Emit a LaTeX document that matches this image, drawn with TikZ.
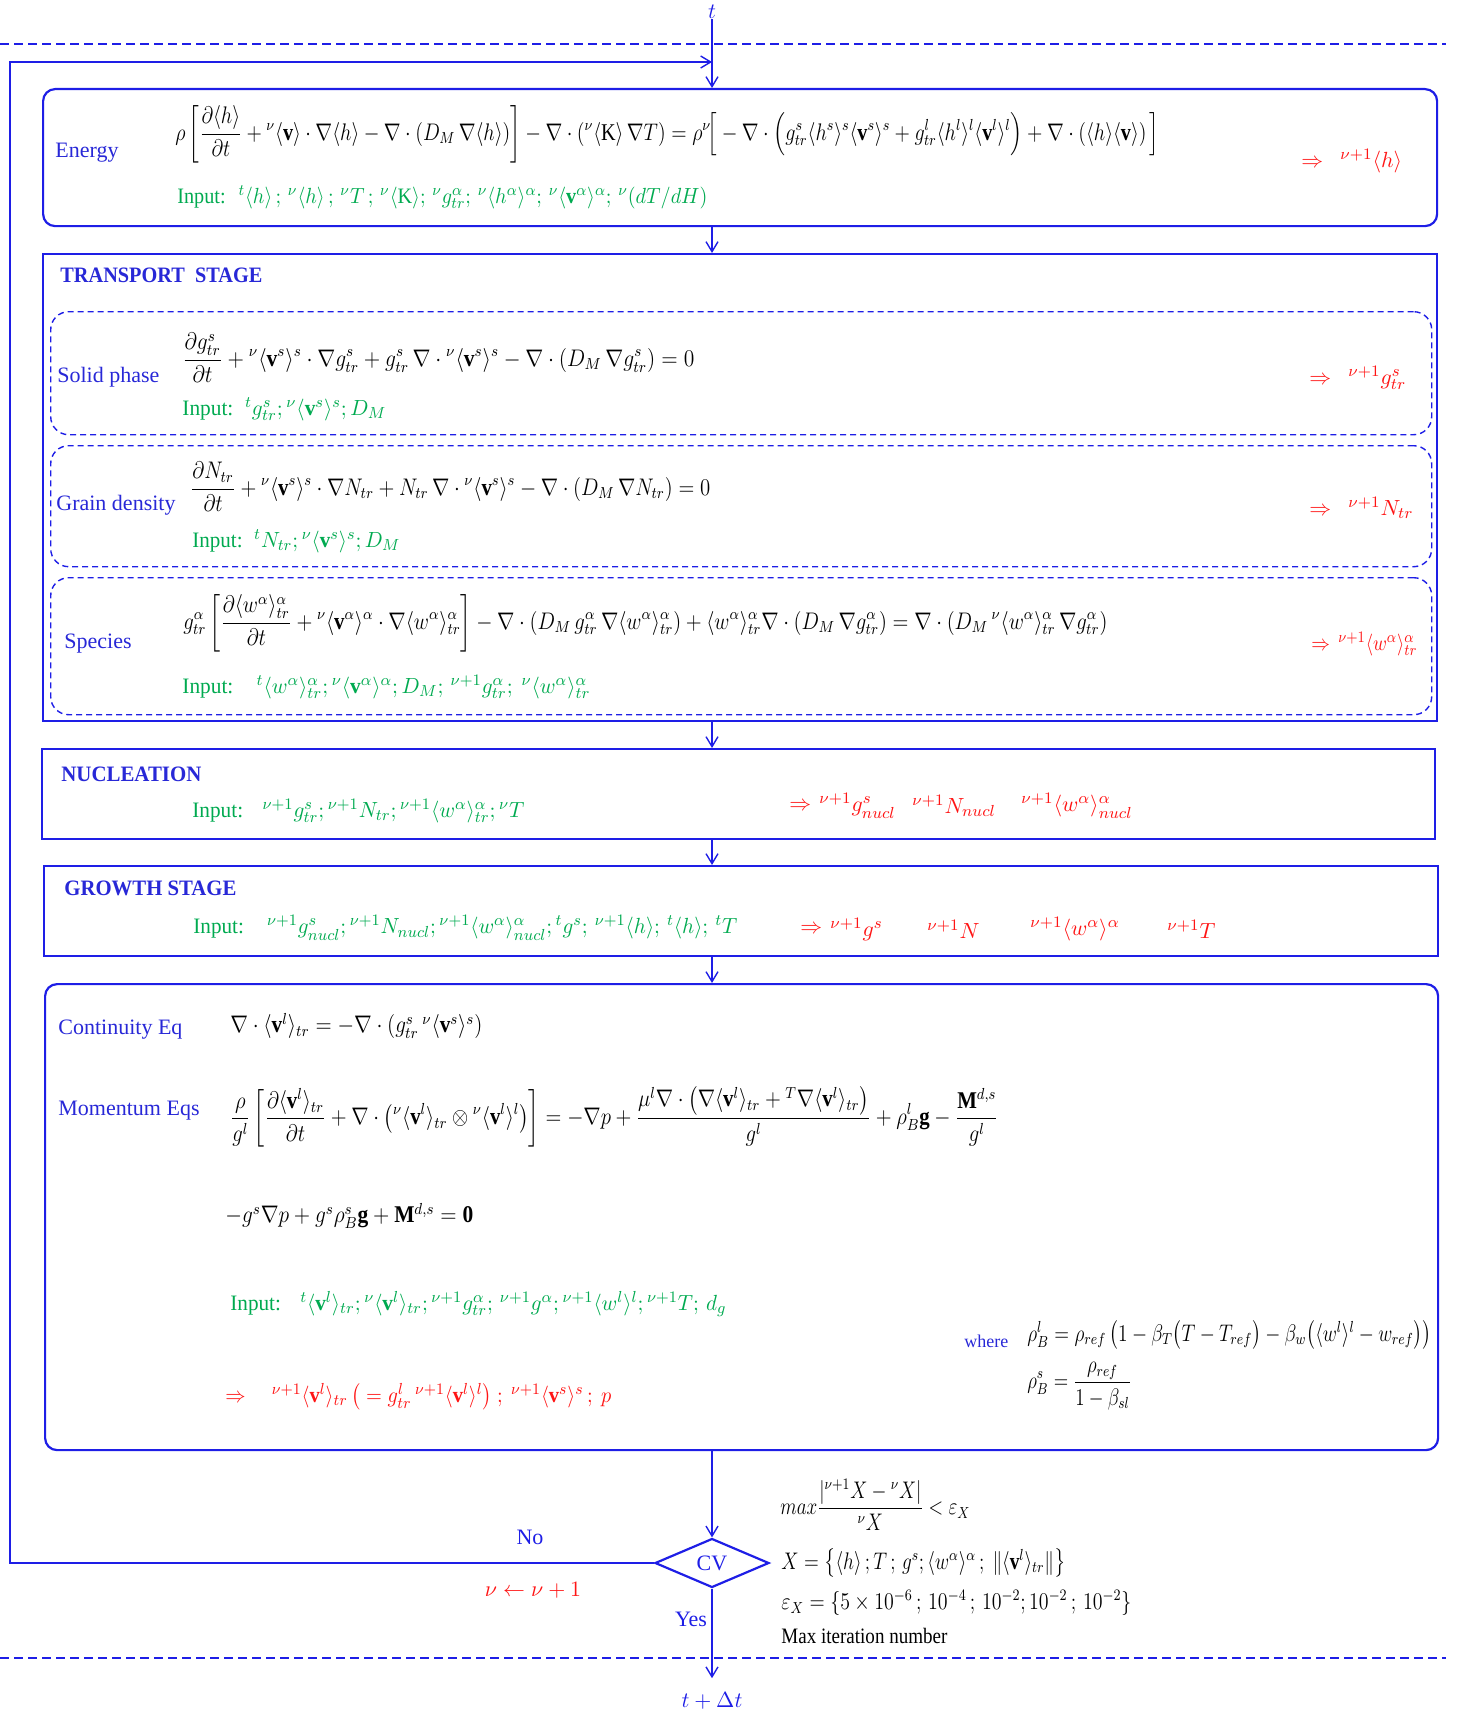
\documentclass[tikz,border=0pt]{standalone}
\usepackage{amsmath,amssymb}
\usepackage{graphicx}
\usepackage{fontspec}
\setmainfont{Liberation Serif}
\usetikzlibrary{arrows.meta,shapes.geometric}
\definecolor{fblue}{RGB}{30,30,230}
\definecolor{lblue}{RGB}{40,40,215}
\definecolor{igreen}{RGB}{0,170,80}
\definecolor{ored}{RGB}{255,20,20}
\newcommand{\pv}{{}^{\nu}}
\newcommand{\pn}{{}^{\nu+1}}
\newcommand{\pt}{{}^{t}}
\newcommand{\bv}{\mathbf{v}}
\newcommand{\hfit}[2]{\resizebox{#1}{\height}{#2}}
\begin{document}
\begin{tikzpicture}[x=0.5pt,y=-0.5pt,
  frame/.style={draw=fblue,line width=1.1pt,inner sep=0,anchor=north west},
  rframe/.style={frame,rounded corners=6pt},
  dbox/.style={draw=fblue,densely dashed,line width=0.7pt,rounded corners=9pt,inner sep=0,anchor=north west},
  lab/.style={anchor=west,inner sep=0,text=lblue,font=\fontsize{11}{13}\selectfont},
  ttl/.style={anchor=west,inner sep=0,text=lblue,font=\fontsize{11}{13}\selectfont\bfseries},
  eq/.style={anchor=west,inner sep=0,font=\fontsize{12}{14}\selectfont},
  inp/.style={anchor=west,inner sep=0,text=igreen,font=\fontsize{11}{13}\selectfont},
  outp/.style={anchor=west,inner sep=0,text=ored,font=\fontsize{11}{13}\selectfont},
  flow/.style={draw=fblue,line width=0.7pt,-{Straight Barb[length=5pt,width=6pt]}},
  tdash/.style={draw=fblue,line width=1.2pt,dash pattern=on 4.5pt off 2.5pt},
  cvshape/.style={diamond,draw=fblue,line width=1.1pt,minimum width=57pt,minimum height=24.5pt,inner sep=0,text=fblue,font=\fontsize{11}{13}\selectfont},
  plain/.style={inner sep=0,font=\fontsize{11}{13}\selectfont}
]
\useasboundingbox (0,0) rectangle (1458,1718);

% time markers and dashed lines
\node[plain,text=fblue] (tlab) at (712,12) {$t$};
\coordinate (dA) at (0,44);
\coordinate (dB) at (1446,44);
\draw[tdash] (dA) -- (dB);
\coordinate (dC) at (0,1658);
\coordinate (dD) at (1446,1658);
\draw[tdash] (dC) -- (dD);

% boxes
\node[rframe,minimum width=697pt,minimum height=68.5pt] (energy) at (42,88) {};
\node[frame,minimum width=697pt,minimum height=233.5pt] (transport) at (42,253) {};
\node[dbox,minimum width=690.5pt,minimum height=61.5pt] (solid) at (50,311) {};
\node[dbox,minimum width=690.5pt,minimum height=60.5pt] (grain) at (50,445) {};
\node[dbox,minimum width=690.5pt,minimum height=68.5pt] (species) at (50,577) {};
\node[frame,minimum width=696.5pt,minimum height=45pt] (nucl) at (41,748) {};
\node[frame,minimum width=697pt,minimum height=45pt] (growth) at (43,865) {};
\node[rframe,minimum width=696.5pt,minimum height=233pt] (moment) at (44,983) {};
\node[cvshape] (cv) at (712,1563) {CV};

% Energy
\node[lab] (lenergy) at (55,153) {Energy};
\node[eq] (eenergy) at (175,134) {\hfit{492pt}{$\displaystyle \rho\left[\frac{\partial\langle h\rangle}{\partial t}+\pv\langle\bv\rangle\cdot\nabla\langle h\rangle-\nabla\cdot\left(D_M\,\nabla\langle h\rangle\right)\right]-\nabla\cdot\left(\pv\langle\mathrm{K}\rangle\,\nabla T\right)=\rho^{\nu}\!\Big[-\nabla\cdot\Big(g^s_{tr}\langle h^s\rangle^s\langle\bv^s\rangle^s+g^l_{tr}\langle h^l\rangle^l\langle\bv^l\rangle^l\Big)+\nabla\cdot\left(\langle h\rangle\langle\bv\rangle\right)\Big]$}};
\node[inp] (ienergy) at (177,197) {\hfit{265pt}{Input:\hspace{7pt}$\pt\langle h\rangle\,;\,\pv\langle h\rangle\,;\,\pv T\,;\,\pv\langle\mathrm{K}\rangle;\,\pv g^{\alpha}_{tr};\,\pv\langle h^{\alpha}\rangle^{\alpha};\,\pv\langle\bv^{\alpha}\rangle^{\alpha};\,\pv(dT/dH)$}};
\node[outp] (oenergy) at (1301,161) {$\Rightarrow\ \ \pn\langle h\rangle$};

% Transport
\node[ttl] (ltrans) at (60,275) {\hfit{101pt}{TRANSPORT\ \ STAGE}};
\node[lab] (lsolid) at (57,377) {Solid phase};
\node[eq] (esolid) at (182,358) {\hfit{256pt}{$\displaystyle\frac{\partial g^s_{tr}}{\partial t}+\pv\langle\bv^s\rangle^s\cdot\nabla g^s_{tr}+g^s_{tr}\,\nabla\cdot\pv\langle\bv^s\rangle^s-\nabla\cdot\left(D_M\,\nabla g^s_{tr}\right)=0$}};
\node[inp] (isolid) at (182,409) {\hfit{102pt}{Input:\hspace{6pt}$\pt g^s_{tr};\pv\langle\bv^s\rangle^s;D_M$}};
\node[outp] (osolid) at (1309,378) {$\Rightarrow\ \ \pn g^s_{tr}$};

\node[lab] (lgrain) at (56,505) {Grain density};
\node[eq] (egrain) at (190,487) {\hfit{260pt}{$\displaystyle\frac{\partial N_{tr}}{\partial t}+\pv\langle\bv^s\rangle^s\cdot\nabla N_{tr}+N_{tr}\,\nabla\cdot\pv\langle\bv^s\rangle^s-\nabla\cdot\left(D_M\,\nabla N_{tr}\right)=0$}};
\node[inp] (igrain) at (192,541) {\hfit{104pt}{Input:\hspace{6pt}$\pt N_{tr};\pv\langle\bv^s\rangle^s;D_M$}};
\node[outp] (ograin) at (1309,508) {$\Rightarrow\ \ \pn N_{tr}$};

\node[lab] (lspec) at (64,644) {Species};
\node[eq] (espec) at (183,623) {\hfit{462pt}{$\displaystyle g^{\alpha}_{tr}\left[\frac{\partial\langle w^{\alpha}\rangle^{\alpha}_{tr}}{\partial t}+\pv\langle\bv^{\alpha}\rangle^{\alpha}\cdot\nabla\langle w^{\alpha}\rangle^{\alpha}_{tr}\right]-\nabla\cdot\left(D_M\,g^{\alpha}_{tr}\,\nabla\langle w^{\alpha}\rangle^{\alpha}_{tr}\right)+\langle w^{\alpha}\rangle^{\alpha}_{tr}\nabla\cdot\left(D_M\,\nabla g^{\alpha}_{tr}\right)=\nabla\cdot\left(D_M\,\pv\langle w^{\alpha}\rangle^{\alpha}_{tr}\,\nabla g^{\alpha}_{tr}\right)$}};
\node[inp] (ispec) at (182,687) {\hfit{204pt}{Input:\hspace{12pt}$\pt\langle w^{\alpha}\rangle^{\alpha}_{tr};\pv\langle\bv^{\alpha}\rangle^{\alpha};D_M;\,\pn g^{\alpha}_{tr};\ \pv\langle w^{\alpha}\rangle^{\alpha}_{tr}$}};
\node[outp] (ospec) at (1311,644) {\hfit{53pt}{$\Rightarrow\,\pn\langle w^{\alpha}\rangle^{\alpha}_{tr}$}};

% Nucleation
\node[ttl] (lnucl) at (61,774) {\hfit{70pt}{NUCLEATION}};
\node[inp] (inucl) at (192,811) {\hfit{166pt}{Input:\hspace{10pt}$\pn g^s_{tr};\pn N_{tr};\pn\langle w^{\alpha}\rangle^{\alpha}_{tr};\pv T$}};
\node[outp] (onuclA) at (789,806) {$\Rightarrow$};
\node[outp] (onuclB) at (819,806) {$\pn g^s_{nucl}$};
\node[outp] (onuclC) at (912,806) {$\pn N_{nucl}$};
\node[outp] (onuclD) at (1021,806) {$\pn\langle w^{\alpha}\rangle^{\alpha}_{nucl}$};

% Growth
\node[ttl] (lgrowth) at (64,888) {\hfit{86pt}{GROWTH STAGE}};
\node[inp] (igrowth) at (193,928) {\hfit{272pt}{Input:\hspace{12pt}$\pn g^s_{nucl};\pn N_{nucl};\pn\langle w^{\alpha}\rangle^{\alpha}_{nucl};\pt g^s;\,\pn\langle h\rangle;\,\pt\langle h\rangle;\,\pt T$}};
\node[outp] (ogrowA) at (800,929) {$\Rightarrow$};
\node[outp] (ogrowB) at (830,929) {$\pn g^s$};
\node[outp] (ogrowC) at (927,929) {$\pn N$};
\node[outp] (ogrowD) at (1030,929) {$\pn\langle w^{\alpha}\rangle^{\alpha}$};
\node[outp] (ogrowE) at (1167,929) {$\pn T$};

% Momentum block
\node[lab] (lcont) at (58,1030) {Continuity Eq};
\node[eq] (econt) at (230,1026) {\hfit{126pt}{$\nabla\cdot\langle\bv^l\rangle_{tr}=-\nabla\cdot\left(g^s_{tr}\,\pv\langle\bv^s\rangle^s\right)$}};
\node[lab] (lmom) at (58,1111) {Momentum Eqs};
\node[eq] (emom) at (230,1117) {\hfit{384pt}{$\displaystyle\frac{\rho}{g^l}\left[\frac{\partial\langle\bv^l\rangle_{tr}}{\partial t}+\nabla\cdot\left(\pv\langle\bv^l\rangle_{tr}\otimes\pv\langle\bv^l\rangle^l\right)\right]=-\nabla p+\frac{\mu^l\nabla\cdot\left(\nabla\langle\bv^l\rangle_{tr}+{}^{T}\nabla\langle\bv^l\rangle_{tr}\right)}{g^l}+\rho^l_B\mathbf{g}-\frac{\mathbf{M}^{d,s}}{g^l}$}};
\node[eq] (esmom) at (225,1216) {\hfit{124pt}{$-g^s\nabla p+g^s\rho^s_B\mathbf{g}+\mathbf{M}^{d,s}=\mathbf{0}$}};
\node[inp] (imom) at (230,1304) {\hfit{248pt}{Input:\hspace{10pt}$\pt\langle\bv^l\rangle_{tr};\pv\langle\bv^l\rangle_{tr};\pn g^{\alpha}_{tr};\,\pn g^{\alpha};\pn\langle w^l\rangle^l;\pn T;\,d_g$}};
\node[outp] (omom) at (225,1397) {\hfit{193pt}{$\Rightarrow\quad\pn\langle\bv^l\rangle_{tr}\,\big(=g^l_{tr}\,\pn\langle\bv^l\rangle^l\big)\ ;\ \pn\langle\bv^s\rangle^s\,;\ p$}};
\node[lab,font=\fontsize{9}{11}\selectfont] (lwhere) at (964,1341) {where};
\node[eq] (erhol) at (1027,1335) {\hfit{202pt}{$\rho^l_B=\rho_{ref}\,\big(1-\beta_T\big(T-T_{ref}\big)-\beta_w\big(\langle w^l\rangle^l-w_{ref}\big)\big)$}};
\node[eq] (erhos) at (1027,1386) {\hfit{52pt}{$\displaystyle\rho^s_B=\frac{\rho_{ref}}{1-\beta_{sl}}$}};

% Convergence
\node[eq] (ecrit) at (780,1505) {\hfit{95pt}{$\displaystyle max\frac{\left|\pn X-\pv X\right|}{\pv X}<\varepsilon_X$}};
\node[eq] (eX) at (781,1563) {\hfit{142pt}{$X=\left\{\langle h\rangle\,;T\,;\,g^s;\langle w^{\alpha}\rangle^{\alpha}\,;\ \|\langle\bv^l\rangle_{tr}\|\right\}$}};
\node[eq] (eeps) at (781,1603) {\hfit{175pt}{$\varepsilon_X=\left\{5\times10^{-6}\,;\,10^{-4}\,;\,10^{-2};10^{-2}\,;\,10^{-2}\right\}$}};
\node[plain,anchor=west] (emax) at (781,1636) {\hfit{83pt}{Max iteration number}};
\node[plain,text=fblue] (lno) at (530,1537) {No};
\node[plain,text=ored] (linc) at (533,1590) {$\nu\leftarrow\nu+1$};
\node[plain,text=fblue] (lyes) at (691,1619) {Yes};
\node[plain,text=fblue] (tend) at (712,1701) {$t+\Delta t$};

% connectors
\draw[flow] (tlab.south) -- (energy.north -| tlab);
\draw[flow] (energy.south -| tlab) -- (transport.north -| tlab);
\draw[flow] (transport.south -| tlab) -- (nucl.north -| tlab);
\draw[flow] (nucl.south -| tlab) -- (growth.north -| tlab);
\draw[flow] (growth.south -| tlab) -- (moment.north -| tlab);
\draw[flow] (moment.south -| cv) -- (cv.north);
\draw[flow,shorten >=7pt] (cv.south) -- (tend.north);
\coordinate (lpA) at (10,1563);
\coordinate (lpB) at (10,62);
\coordinate (lpC) at (712,62);
\draw[flow] (cv.west) -- (lpA) -- (lpB) -- (lpC);
\end{tikzpicture}
\end{document}
